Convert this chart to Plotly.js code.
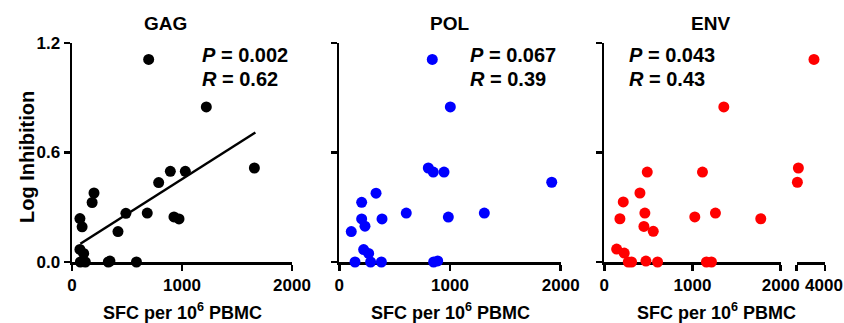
<!DOCTYPE html>
<html>
<head>
<meta charset="utf-8">
<script src="https://cdn.plot.ly/plotly-3.0.1.min.js"></script>
<style>html,body{margin:0;padding:0;background:#fff;}#chart{width:844px;height:323px;}</style>
</head>
<body>
<div id="chart"></div>
<script>
// ---- data ----
var panelTitles = ["GAG", "POL", "ENV"];
var statP = ["0.002", "0.067", "0.043"];
var statR = ["0.62", "0.39", "0.43"];

var gagX = [697, 1221, 1658, 894, 1030, 788, 200, 183, 490, 684, 927, 973, 72, 92, 418, 72, 106, 76, 121, 330, 345, 586];
var gagY = [1.11, 0.85, 0.515, 0.497, 0.497, 0.435, 0.378, 0.326, 0.267, 0.268, 0.247, 0.236, 0.238, 0.193, 0.167, 0.069, 0.047, 0, 0, 0, 0.005, 0];

var gagFitX = [76, 1667];
var gagFitY = [0.10, 0.71];

var polX = [840, 1003, 804, 849, 946, 1919, 332, 202, 605, 1310, 202, 386, 985, 232, 108, 220, 265, 142, 283, 380, 852, 889];
var polY = [1.11, 0.85, 0.515, 0.493, 0.493, 0.437, 0.377, 0.327, 0.268, 0.268, 0.236, 0.236, 0.246, 0.196, 0.167, 0.068, 0.047, 0, 0, 0, 0, 0.006];

var envX = [3610, 1355, 487, 1113, 3059, 3024, 404, 215, 460, 1260, 1026, 1774, 177, 449, 555, 140, 226, 272, 309, 472, 604, 1158, 1215];
var envY = [1.11, 0.85, 0.493, 0.493, 0.515, 0.437, 0.378, 0.329, 0.268, 0.268, 0.247, 0.237, 0.237, 0.195, 0.168, 0.071, 0.049, 0, 0, 0.005, 0, 0, 0];

var xTicks = [0, 1000, 2000];
var xTicksBreak = [3000, 4000];
var xTickTextBreak = ["", "4000"];
var yTicks = [0, 0.6, 1.2];
var yTickText = ["0.0", "0.6", "1.2"];
var xTitle = "SFC per 10<sup>6</sup> PBMC";
var yTitle = "Log Inhibition";

// ---- layout helpers (pixel -> paper) ----
var L = 72, R = 825, T = 43, B = 262;
function px(x) { return (x - L) / (R - L); }
function py(y) { return (B - y) / (B - T); }

var FONT = "Liberation Sans, Arial, sans-serif";
var breakAt = 2000;

// split ENV into the two segments of the broken axis
var envX1 = [], envY1 = [], envX2 = [], envY2 = [];
for (var i = 0; i < envX.length; i++) {
  if (envX[i] > breakAt) { envX2.push(envX[i]); envY2.push(envY[i]); }
  else { envX1.push(envX[i]); envY1.push(envY[i]); }
}

function pts(x, y, xa, ya, color) {
  return {x: x, y: y, xaxis: xa, yaxis: ya, type: "scatter", mode: "markers",
    marker: {size: 11, color: color}, cliponaxis: false, showlegend: false, hoverinfo: "x+y"};
}

var data = [
  pts(gagX, gagY, "x", "y", "#000000"),
  {x: gagFitX, y: gagFitY, xaxis: "x", yaxis: "y", type: "scatter", mode: "lines",
   line: {color: "#000000", width: 2.5}, showlegend: false, cliponaxis: false},
  pts(polX, polY, "x2", "y2", "#0000FF"),
  pts(envX1, envY1, "x3", "y3", "#FF0000"),
  pts(envX2, envY2, "x4", "y3", "#FF0000")
];

var tickFont = {family: FONT, size: 17, color: "#000", weight: "bold"};
function xax(domain, anchor, range, tv, tt) {
  return {domain: domain, anchor: anchor, range: range, tickvals: tv, ticktext: tt || tv.map(String),
    showgrid: false, zeroline: false, showline: true, linecolor: "#000", linewidth: 2.5,
    ticks: "outside", ticklen: 6, tickwidth: 2.5, tickcolor: "#000", tickfont: tickFont,
    ticklabeloverflow: "allow", layer: "below traces", fixedrange: true};
}
function yax(anchor, showLabels) {
  return {domain: [0, 1], anchor: anchor, range: [0, 1.2], tickvals: yTicks, ticktext: yTickText,
    showticklabels: showLabels, showgrid: false, zeroline: false, showline: true,
    linecolor: "#000", linewidth: 2.5, ticks: "outside", ticklen: 6, tickwidth: 2.5, tickcolor: "#000",
    tickfont: tickFont, layer: "below traces", fixedrange: true};
}

var xa4 = xax([px(796.7), 1], "y3", [3000, 4000], xTicksBreak, xTickTextBreak);
xa4.ticklabelshift = -1;

var annotations = [];
var titleX = [165, 449, 710];
var statX = [200, 468, 627];
var xTitleX = [182, 450, 716];
for (var k = 0; k < 3; k++) {
  annotations.push({text: panelTitles[k], xref: "paper", yref: "paper", x: px(titleX[k]), y: py(23),
    xanchor: "center", yanchor: "middle", showarrow: false,
    font: {family: FONT, size: 19, color: "#000", weight: "bold"}});
  annotations.push({text: "<i>P</i> = " + statP[k], xref: "paper", yref: "paper", x: px(statX[k]), y: py(55),
    xanchor: "left", yanchor: "middle", showarrow: false,
    font: {family: FONT, size: 20, color: "#000", weight: "bold"}});
  annotations.push({text: "<i>R</i> = " + statR[k], xref: "paper", yref: "paper", x: px(statX[k]), y: py(79),
    xanchor: "left", yanchor: "middle", showarrow: false,
    font: {family: FONT, size: 20, color: "#000", weight: "bold"}});
  annotations.push({text: xTitle, xref: "paper", yref: "paper", x: px(xTitleX[k]), y: py(311),
    xanchor: "center", yanchor: "middle", showarrow: false,
    font: {family: FONT, size: 18, color: "#000", weight: "bold"}});
}
annotations.push({text: yTitle, xref: "paper", yref: "paper", x: px(27), y: py(157),
  xanchor: "center", yanchor: "middle", textangle: -90, showarrow: false,
  font: {family: FONT, size: 20, color: "#000", weight: "bold"}});

var layout = {
  width: 844, height: 323,
  margin: {l: L, r: 844 - R, t: T, b: 323 - B, pad: 0},
  paper_bgcolor: "#fff", plot_bgcolor: "#fff",
  showlegend: false,
  font: {family: FONT, color: "#000"},
  xaxis: xax([0, px(292)], "y", [0, 2000], xTicks),
  yaxis: yax("x", true),
  xaxis2: xax([px(339.3), px(560.7)], "y2", [0, 2000], xTicks),
  yaxis2: yax("x2", false),
  xaxis3: xax([px(604.3), px(780.7)], "y3", [0, 2000], xTicks),
  yaxis3: yax("x3", false),
  xaxis4: xa4,
  annotations: annotations
};

Plotly.newPlot("chart", data, layout, {staticPlot: true, displayModeBar: false});
</script>
</body>
</html>
